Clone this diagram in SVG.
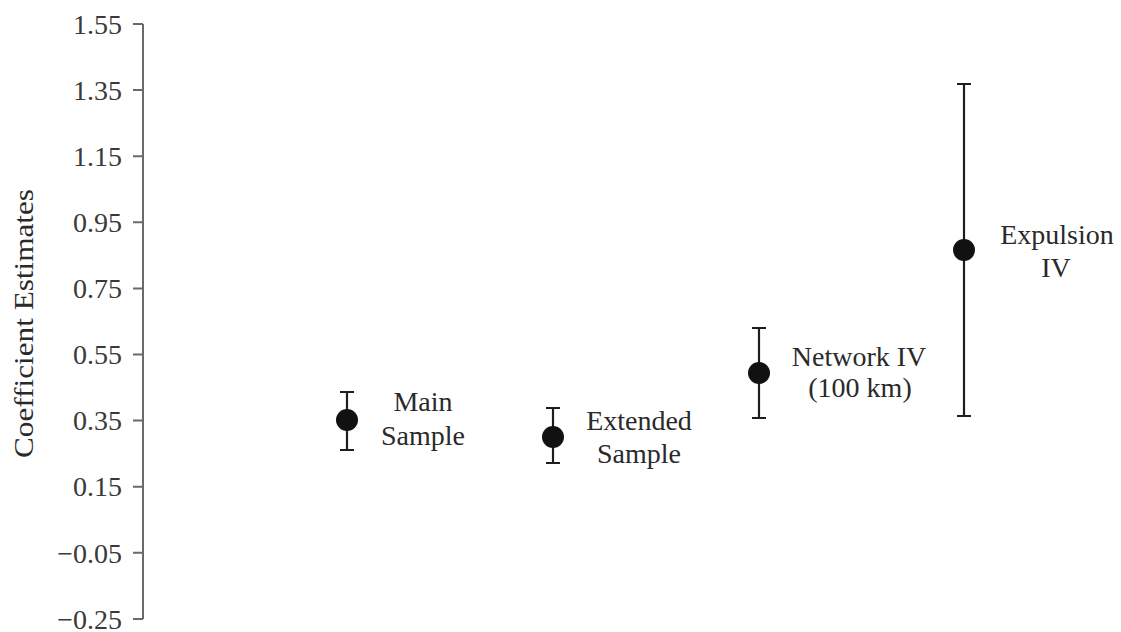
<svg xmlns="http://www.w3.org/2000/svg" width="1121" height="632" viewBox="0 0 1121 632">
<style>
text{font-family:"Liberation Serif","Times New Roman",serif;font-size:28px;fill:#2a2a2a}
.tick{text-anchor:end;fill:#3a3a3a}
.lbl{text-anchor:middle}
.axis{stroke:#6a6a6a;stroke-width:2;fill:none}
.bar{stroke:#1e1e1e;stroke-width:2.2;fill:none}
.dot{fill:#111}
</style>
<rect width="1121" height="632" fill="#fff"/>
<g id="y-axis">
<line class="axis" x1="143" y1="24" x2="143" y2="619"/>
<path class="axis" d="M133 24H143M133 90.1H143M133 156.2H143M133 222.3H143M133 288.4H143M133 354.5H143M133 420.6H143M133 486.7H143M133 552.8H143M133 618.9H143"/>
<text class="tick" x="122" y="34">1.55</text>
<text class="tick" x="122" y="100">1.35</text>
<text class="tick" x="122" y="166">1.15</text>
<text class="tick" x="122" y="232">0.95</text>
<text class="tick" x="122" y="298">0.75</text>
<text class="tick" x="122" y="364">0.55</text>
<text class="tick" x="122" y="430">0.35</text>
<text class="tick" x="122" y="496">0.15</text>
<text class="tick" x="122" y="563">−0.05</text>
<text class="tick" x="122" y="629">−0.25</text>
<text transform="translate(33,323.5) rotate(-90)" text-anchor="middle" textLength="269" lengthAdjust="spacingAndGlyphs">Coefficient Estimates</text>
</g>
<g id="connectors">
<path class="bar" d="M347 392V450M340 392H354M340 450H354"/>
<path class="bar" d="M553 408V463M546 408H560M546 463H560"/>
<path class="bar" d="M759 328V418M752 328H766M752 418H766"/>
<path class="bar" d="M964 84V416M957 84H971M957 416H971"/>
</g>
<g id="main-sample">
<circle class="dot" cx="347" cy="420" r="11"/>
<text class="lbl" x="423" y="411">Main</text>
<text class="lbl" x="423" y="445">Sample</text>
</g>
<g id="extended-sample">
<circle class="dot" cx="553" cy="437" r="11"/>
<text class="lbl" x="639" y="430">Extended</text>
<text class="lbl" x="639" y="463">Sample</text>
</g>
<g id="network-iv">
<circle class="dot" cx="759" cy="373" r="11"/>
<text class="lbl" x="859" y="366">Network IV</text>
<text class="lbl" x="860" y="397">(100 km)</text>
</g>
<g id="expulsion-iv">
<circle class="dot" cx="964" cy="250" r="11"/>
<text class="lbl" x="1057" y="244">Expulsion</text>
<text class="lbl" x="1056" y="277">IV</text>
</g>
</svg>
